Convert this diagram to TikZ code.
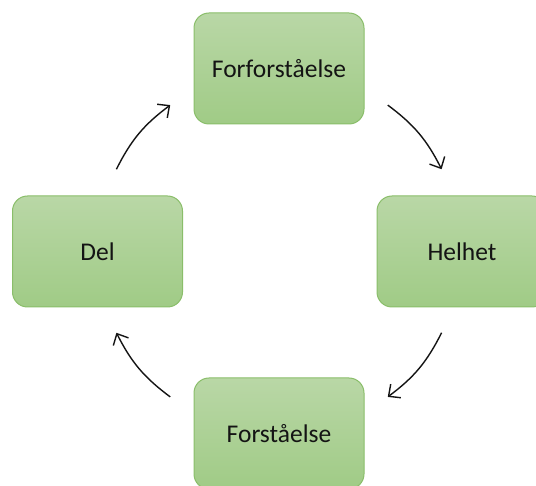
\documentclass[tikz,border=0pt]{standalone}
\usepackage{fontspec}
\setmainfont{Carlito}
\usetikzlibrary{arrows.meta,calc}
\definecolor{boxtop}{RGB}{185,215,166}
\definecolor{boxbot}{RGB}{160,203,134}
\definecolor{boxline}{RGB}{138,190,106}
\definecolor{ink}{RGB}{20,20,20}
\tikzset{
  stagebox/.style={rounded corners=15pt, minimum width=170pt, minimum height=111pt,
    top color=boxtop, bottom color=boxbot, draw=boxline, line width=1pt,
    font=\fontsize{25.5}{30}\selectfont, text=ink, inner sep=0pt},
  cyclearrow/.style={draw=ink, line width=1.4pt,
    -{Straight Barb[length=9pt,width=17pt,line width=1.4pt]}, bend left=13.3}
}
\begin{document}
\begin{tikzpicture}[x=1pt,y=-1pt]
\clip (0,0) rectangle (536,486);
\fill[white] (0,0) rectangle (536,486);
\node[stagebox] (top) at (279,68.5) {Forforståelse};
\node[stagebox] (right) at (462,251.5) {Helhet};
\node[stagebox] (bottom) at (279,433.5) {Forståelse};
\node[stagebox] (left) at (97.5,251.5) {Del};
\coordinate (c) at (279,251);
\coordinate (trs) at ($(c)+(53.3:182pt)$);
\coordinate (tre) at ($(c)+(26.7:182pt)$);
\coordinate (brs) at ($(c)+(-26.7:182pt)$);
\coordinate (bre) at ($(c)+(-53.3:182pt)$);
\coordinate (bls) at ($(c)+(-126.7:182pt)$);
\coordinate (ble) at ($(c)+(-153.3:182pt)$);
\coordinate (tls) at ($(c)+(153.3:182pt)$);
\coordinate (tle) at ($(c)+(126.7:182pt)$);
\draw[cyclearrow] (trs) to (tre);
\draw[cyclearrow] (brs) to (bre);
\draw[cyclearrow] (bls) to (ble);
\draw[cyclearrow] (tls) to (tle);
\end{tikzpicture}
\end{document}
